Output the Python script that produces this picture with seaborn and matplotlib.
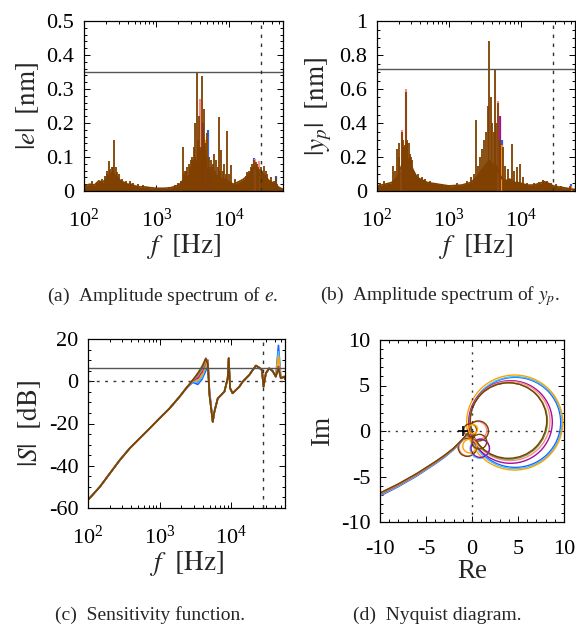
import pandas as pd
import matplotlib
matplotlib.use('Agg')
import matplotlib.pyplot as plt
import seaborn as sns
from matplotlib.patches import Circle
from matplotlib.ticker import MultipleLocator, FormatStrFormatter

sns.set_theme(style='ticks')
plt.rcParams['font.family'] = ['Liberation Serif', 'DejaVu Serif']
plt.rcParams['mathtext.fontset'] = 'stix'
plt.rcParams['axes.unicode_minus'] = False

# series colours (last one is drawn on top)
colors = ['#1f5fff', '#3fc3ff', '#ffa200', '#a0109f', '#ff8a8a', '#5a9e3a', '#7f4000']
brown = colors[-1]

f_max = 5.6e4
f_nyq = 2.8e4

# (a) amplitude spectrum of e
e_band_f = [100, 120, 140, 160, 180, 200, 215, 230, 250, 270, 290, 320, 360, 400, 450, 500,
            600, 700, 800, 1000, 1300, 1600, 1900, 2100, 2300, 2500, 2700, 2900, 3100, 3300,
            3500, 3700, 3900, 4100, 4400, 4700, 5000, 5400, 5800, 6300, 6800, 7400, 8000,
            8700, 9500, 10500, 11500, 13000, 14500, 16000, 18000, 20000, 22000, 24000, 26000,
            28000, 30000, 33000, 36000, 40000, 44000, 48000, 52000, 56000]
e_band_a = [0.015, 0.02, 0.018, 0.03, 0.025, 0.035, 0.04, 0.05, 0.055, 0.045, 0.04, 0.03,
            0.025, 0.02, 0.02, 0.015, 0.012, 0.012, 0.01, 0.008, 0.008, 0.01, 0.015, 0.02,
            0.03, 0.035, 0.04, 0.05, 0.06, 0.07, 0.08, 0.09, 0.1, 0.09, 0.1, 0.08, 0.06,
            0.05, 0.045, 0.05, 0.045, 0.04, 0.035, 0.035, 0.03, 0.025, 0.02, 0.025, 0.03,
            0.035, 0.045, 0.055, 0.07, 0.065, 0.05, 0.045, 0.05, 0.04, 0.03, 0.025, 0.02,
            0.012, 0.008, 0.005]
e_spike_f = [130, 150, 175, 195, 205, 210, 222, 230, 240, 250, 261, 275, 285, 300, 340, 380,
             430, 480, 560, 650, 1500, 1800, 2000, 2200, 2350, 2400, 2500, 2600, 2650, 2800,
             2900, 3000, 3130, 3200, 3300, 3400, 3450, 3590, 3700, 3750, 3900, 4000, 4050,
             4200, 4300, 4540, 4650, 4750, 4900, 5060, 5300, 5450, 5600, 5800, 6000, 6250,
             6500, 6700, 7000, 7340, 7600, 7900, 8200, 8500, 9000, 9560, 10000, 10700, 12000,
             17000, 18000, 19000, 20000, 21000, 22400, 23500, 24500, 25500, 26500, 27500,
             29000, 31000, 32500, 34000, 38000, 42000, 44700, 47000]
e_spike_a = [0.03, 0.025, 0.035, 0.045, 0.06, 0.05, 0.088, 0.065, 0.07, 0.07, 0.15, 0.07,
             0.055, 0.05, 0.035, 0.03, 0.028, 0.025, 0.02, 0.018, 0.012, 0.018, 0.025, 0.03,
             0.13, 0.05, 0.06, 0.06, 0.07, 0.08, 0.07, 0.09, 0.1, 0.09, 0.13, 0.1, 0.2, 0.35,
             0.12, 0.15, 0.22, 0.12, 0.13, 0.13, 0.338, 0.24, 0.12, 0.14, 0.1, 0.17, 0.1, 0.07,
             0.09, 0.07, 0.08, 0.11, 0.06, 0.09, 0.07, 0.217, 0.06, 0.12, 0.06, 0.08, 0.05,
             0.176, 0.05, 0.077, 0.035, 0.045, 0.055, 0.06, 0.07, 0.08, 0.09, 0.085, 0.08,
             0.07, 0.065, 0.07, 0.06, 0.075, 0.06, 0.05, 0.04, 0.03, 0.04, 0.02]
e_extra_c = [0, 0, 0, 2, 2, 3, 3, 4, 4, 4]
e_extra_f = [5100, 22000, 45500, 5000, 4900, 4450, 5200, 4000, 23000, 26000]
e_extra_a = [0.178, 0.096, 0.045, 0.158, 0.15, 0.2, 0.07, 0.27, 0.095, 0.088]

# (b) amplitude spectrum of y_p
y_band_f = [100, 130, 160, 190, 220, 250, 280, 320, 360, 400, 500, 700, 1000, 1500, 2000,
            2400, 2800, 3200, 3600, 4000, 4500, 5000, 5500, 6000, 7000, 8000, 9000, 10000,
            12000, 15000, 18000, 21000, 24000, 28000, 32000, 38000, 45000, 52000, 56000]
y_band_a = [0.03, 0.04, 0.05, 0.08, 0.15, 0.2, 0.18, 0.12, 0.08, 0.07, 0.05, 0.04, 0.03,
            0.035, 0.05, 0.08, 0.12, 0.15, 0.18, 0.16, 0.15, 0.1, 0.07, 0.06, 0.07, 0.05,
            0.05, 0.045, 0.035, 0.035, 0.045, 0.055, 0.045, 0.03, 0.025, 0.02, 0.015, 0.01,
            0.01]
y_spike_f = [110, 125, 140, 165, 180, 190, 200, 205, 220, 230, 235, 245, 253, 260, 265, 280,
             290, 300, 310, 330, 370, 420, 470, 550, 650, 800, 1000, 1300, 1600, 1800, 2000,
             2200, 2330, 2500, 2700, 2900, 3100, 3300, 3450, 3600, 3850, 4000, 4150, 4330,
             4550, 4820, 5100, 5540, 6000, 6500, 7380, 7900, 8660, 9660, 10500, 12000, 15000,
             18000, 20000, 23000, 26000, 31000, 36000, 43000, 48000]
y_spike_a = [0.05, 0.06, 0.05, 0.15, 0.12, 0.25, 0.2, 0.28, 0.345, 0.3, 0.26, 0.27, 0.584,
             0.29, 0.3, 0.28, 0.22, 0.2, 0.18, 0.12, 0.1, 0.08, 0.07, 0.06, 0.05, 0.04, 0.035,
             0.05, 0.04, 0.06, 0.08, 0.1, 0.42, 0.15, 0.2, 0.25, 0.3, 0.35, 0.5, 0.885, 0.55,
             0.4, 0.35, 0.72, 0.4, 0.52, 0.3, 0.26, 0.15, 0.13, 0.276, 0.12, 0.143, 0.16,
             0.08, 0.05, 0.05, 0.055, 0.065, 0.06, 0.05, 0.04, 0.03, 0.02, 0.03]
y_extra_c = [0, 0, 2, 2, 3, 4, 4, 4]
y_extra_f = [5500, 48500, 5400, 49500, 5100, 253, 220, 4850]
y_extra_a = [0.3, 0.04, 0.27, 0.03, 0.44, 0.6, 0.36, 0.53]

# (c) sensitivity function |S| [dB]
s_lo_f = [100, 147, 202, 278, 383, 527, 726, 1000, 1377, 1896, 2345]
s_lo = [-56.2, -49.9, -43.6, -37.3, -31.7, -27.0, -22.3, -17.5, -12.8, -7.3, -3.3]
s_mid_f = [2900, 3400, 3900, 4400, 4700, 4940]
s_mid = [[-0.5, -1.5, 1.0, 5.0, 7.5, -4.0],
         [0.0, -0.5, 2.0, 6.5, 8.5, -4.5],
         [0.2, 0.5, 3.0, 7.5, 9.0, -5.0],
         [0.4, 1.5, 4.5, 9.0, 10.0, -5.5],
         [0.5, 2.5, 5.5, 9.5, 9.5, -6.0],
         [0.6, 3.0, 6.0, 10.5, 9.0, -6.5],
         [0.6, 3.8, 7.0, 10.9, 8.0, -6.5]]
s_hi_f = [5500, 5800, 6460, 7200, 8000, 8890, 9180, 9600, 10400, 11600, 12900, 14400,
          16000, 17800, 19800, 22000, 24500, 26700, 28100, 30300, 33700, 37500, 41700]
s_hi = [-19.2, -14.4, -8.1, -6.5, -4.9, 1.4, 10.9, -3.3, -5.7, -4.1, -2.6, -0.2, 1.4, 3.0,
        5.3, 7.4, 6.4, 5.3, -2.6, 3.8, 6.1, 4.9, 2.2]
s_spike_f = 45400
s_spike = [17.0, 14.0, 12.0, 7.0, 6.5, 6.2, 6.1]
s_end_f = [49000, 54500, 56000]
s_end = [1.4, 2.2, 1.0]
s_bound = 6.3

# (d) Nyquist diagram
tail_re = [-10.5, -10, -8, -6, -4, -3, -2, -1.3, -0.8, -0.5]
tail_im = [[-7.4, -7.15, -6.12, -4.95, -3.62, -2.9, -2.06, -1.32, -0.72, -0.34],
           [-7.32, -7.07, -6.05, -4.88, -3.56, -2.85, -2.02, -1.29, -0.7, -0.33],
           [-7.25, -7.0, -5.99, -4.83, -3.51, -2.8, -1.98, -1.26, -0.68, -0.32],
           [-7.2, -6.95, -5.94, -4.78, -3.47, -2.76, -1.95, -1.24, -0.67, -0.31],
           [-7.15, -6.9, -5.9, -4.74, -3.44, -2.73, -1.93, -1.22, -0.66, -0.3],
           [-7.1, -6.85, -5.85, -4.7, -3.4, -2.7, -1.9, -1.2, -0.65, -0.3],
           [-7.05, -6.8, -5.8, -4.66, -3.37, -2.67, -1.88, -1.18, -0.64, -0.29]]
loop_re = [4.69, 4.72, 4.64, 4.19, 4.13, 4.0, 3.97]
loop_im = [0.95, 0.92, 0.93, 0.99, 1.1, 1.1, 1.15]
loop_r = [4.95, 5.05, 5.22, 4.54, 4.35, 4.2, 4.15]
small_c = [4, 6, 4, 6, 1, 3, 2, 6, 6, 2]
small_re = [0.6, 0.69, -0.45, -0.51, 0.85, 0.9, -0.25, 0.8, -0.2, 0.1]
small_im = [0.05, 0.0, -1.8, -1.79, -1.95, -1.9, -1.65, -1.17, 0.1, 0.2]
small_r = [1.0, 1.1, 0.95, 1.0, 1.05, 1.0, 0.75, 0.8, 0.7, 0.5]

W, H = 576, 625
fig = plt.figure(figsize=(W / 100, H / 100), dpi=100)


def box(l, t, r, b):
    return [l / W, 1 - b / H, (r - l) / W, (b - t) / H]


def style(ax):
    ax.tick_params(which='both', direction='in', top=True, right=True, labelsize=16,
                   colors='black', width=0.7)
    ax.tick_params(axis='x', which='both', pad=13)
    ax.tick_params(axis='y', which='both', pad=7)
    ax.tick_params(which='major', length=4)
    ax.tick_params(which='minor', length=2)
    for s in ax.spines.values():
        s.set_color('black')
        s.set_linewidth(0.9)


def spectrum(ax, bf, ba, sf, sa, xc, xf, xa, ymax, ymaj, ymin, bound, ylabel):
    ax.set_xscale('log')
    for c, f, a in zip(xc, xf, xa):
        ax.vlines(f, 0, a, color=colors[c], lw=1.6)
    ax.fill_between(bf, 0, ba, color=brown, lw=0)
    sns.lineplot(x=bf, y=ba, ax=ax, color=brown, lw=1.2, sort=False)
    ax.vlines(sf, 0, sa, color=brown, lw=1.3)
    ax.axhline(bound, color='#555555', lw=1.0)
    ax.axvline(f_nyq, color='#333333', lw=1.0, ls=(0, (2.5, 4)))
    ax.set_xlim(100, f_max)
    ax.set_ylim(0, ymax)
    ax.yaxis.set_major_locator(MultipleLocator(ymaj))
    ax.yaxis.set_minor_locator(MultipleLocator(ymin))
    ax.yaxis.set_major_formatter(FormatStrFormatter('%g'))
    ax.set_xlabel(r'$f\ \ [\mathrm{Hz}]$', fontsize=19.5, labelpad=0)
    ax.set_ylabel(ylabel, fontsize=19.5, labelpad=4)
    style(ax)


ax_a = fig.add_axes(box(84, 21, 283, 191))
spectrum(ax_a, e_band_f, e_band_a, e_spike_f, e_spike_a, e_extra_c, e_extra_f, e_extra_a,
         0.5, 0.1, 0.02, 0.35, r'$|e|\ \ [\mathrm{nm}]$')

ax_b = fig.add_axes(box(377, 21, 575, 191))
spectrum(ax_b, y_band_f, y_band_a, y_spike_f, y_spike_a, y_extra_c, y_extra_f, y_extra_a,
         1.0, 0.2, 0.05, 0.72, r'$|y_p|\ \ [\mathrm{nm}]$')

# (c)
ax_c = fig.add_axes(box(88, 339, 285, 508))
ax_c.set_xscale('log')
ax_c.axhline(0, color='#333333', lw=1.0, ls=(0, (2, 4)))
ax_c.axvline(f_nyq, color='#333333', lw=1.0, ls=(0, (2.5, 4)))
for i, col in enumerate(colors):
    freq = s_lo_f + s_mid_f + s_hi_f + [s_spike_f] + s_end_f
    mag = s_lo + s_mid[i] + s_hi + [s_spike[i]] + s_end
    sns.lineplot(x=freq, y=mag, ax=ax_c, color=col, lw=1.2, sort=False)
ax_c.axhline(s_bound, color='#555555', lw=1.0)
ax_c.set_xlim(100, f_max)
ax_c.set_ylim(-60, 20)
ax_c.yaxis.set_major_locator(MultipleLocator(20))
ax_c.yaxis.set_minor_locator(MultipleLocator(5))
ax_c.set_xlabel(r'$f\ \ [\mathrm{Hz}]$', fontsize=19.5, labelpad=0)
ax_c.set_ylabel(r'$|S|\ \ [\mathrm{dB}]$', fontsize=19.5, labelpad=4)
style(ax_c)

# (d)
ax_d = fig.add_axes(box(380, 340, 564, 522))
ax_d.axhline(0, color='#333333', lw=1.0, ls=(0, (1.5, 4)))
ax_d.axvline(0, color='#333333', lw=1.0, ls=(0, (1.5, 4)))
for i, col in enumerate(colors):
    sns.lineplot(x=tail_re, y=tail_im[i], ax=ax_d, color=col, lw=1.0, sort=False)
    ax_d.add_patch(Circle((loop_re[i], loop_im[i]), loop_r[i], fill=False, ec=col, lw=1.0))
for c, re, im, r in zip(small_c, small_re, small_im, small_r):
    ax_d.add_patch(Circle((re, im), r, fill=False, ec=colors[c], lw=1.0))
ax_d.plot([-1], [0], marker='+', color='black', ms=7, mew=1.2)
ax_d.set_xlim(-10, 10)
ax_d.set_ylim(-10, 10)
ax_d.xaxis.set_major_locator(MultipleLocator(5))
ax_d.yaxis.set_major_locator(MultipleLocator(5))
ax_d.xaxis.set_minor_locator(MultipleLocator(1))
ax_d.yaxis.set_minor_locator(MultipleLocator(1))
ax_d.set_xlabel('Re', fontsize=19.5, labelpad=0)
ax_d.set_ylabel('Im', fontsize=19.5, labelpad=4)
style(ax_d)

cap = dict(ha='center', va='center', fontsize=14)
fig.text(163 / W, 1 - 296 / H, r'(a)  Amplitude spectrum of $e$.', **cap)
fig.text(440 / W, 1 - 296 / H, r'(b)  Amplitude spectrum of $y_p$.', **cap)
fig.text(150 / W, 1 - 615 / H, '(c)  Sensitivity function.', **cap)
fig.text(437 / W, 1 - 615 / H, '(d)  Nyquist diagram.', **cap)

fig.savefig('out.png', dpi=100)
